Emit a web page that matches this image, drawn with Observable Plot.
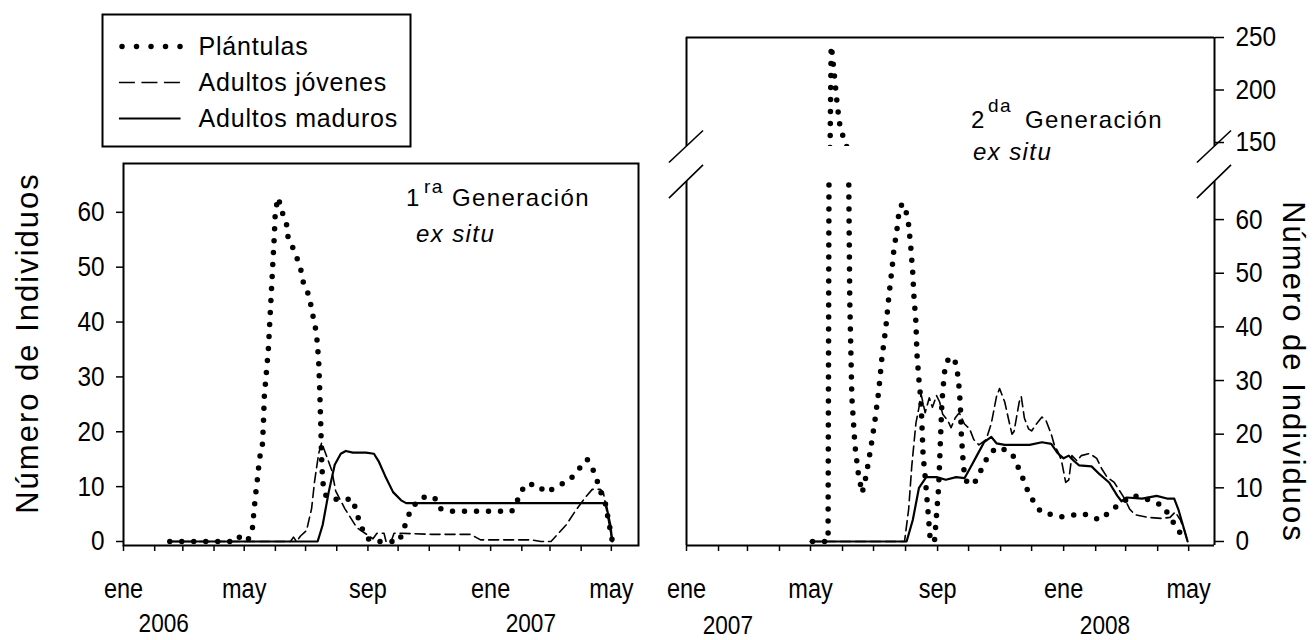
<!DOCTYPE html>
<html lang="es">
<head>
<meta charset="utf-8">
<title>Número de Individuos</title>
<script src="https://cdn.jsdelivr.net/npm/d3@7"></script>
<script src="https://cdn.jsdelivr.net/npm/@observablehq/plot@0.6"></script>
<style>
  html, body { margin: 0; padding: 0; background: #fff; }
  #chart { position: relative; width: 1314px; height: 640px; overflow: hidden; background: #fff; }
  #chart > svg { position: absolute; left: 0; top: 0; }
</style>
</head>
<body>
<div id="chart"></div>
<script>
// ---------- labels ----------
const monthLabels = ["ene","feb","mar","abr","may","jun","jul","ago","sep","oct","nov","dic"];
const labeledMonths = [0, 4, 8];
const yTicksLow = [0, 10, 20, 30, 40, 50, 60];
const yTicksHigh = [150, 200, 250];
const seriesNames = ["Plántulas", "Adultos jóvenes", "Adultos maduros"];
const axisTitle = "Número de Individuos";
const years1Dates = ["2006-02-10", "2007-02-10"];
const years1Text = ["2006", "2007"];
const years2Dates = ["2007-02-10", "2008-02-10"];
const years2Text = ["2007", "2008"];

// ---------- 1ra Generación ----------
const p1Dates = ["2006-02-16","2006-04-18","2006-04-24","2006-04-29","2006-05-04","2006-05-09","2006-05-12","2006-05-15","2006-05-16","2006-05-19","2006-05-20","2006-05-21","2006-05-23","2006-05-25","2006-05-27","2006-05-29","2006-05-31","2006-06-01","2006-06-04","2006-06-07","2006-06-12","2006-06-13","2006-06-18","2006-06-23","2006-06-27","2006-06-29","2006-07-05","2006-07-07","2006-07-10","2006-07-12","2006-07-14","2006-07-15","2006-07-16","2006-07-17","2006-07-18","2006-07-20","2006-07-22","2006-07-31","2006-08-10","2006-08-17","2006-08-21","2006-08-27","2006-09-01","2006-09-06","2006-10-02","2006-10-06","2006-10-14","2006-10-24","2006-11-03","2006-11-09","2006-11-12","2006-11-22","2006-12-12","2007-01-01","2007-01-22","2007-01-29","2007-02-04","2007-02-16","2007-02-25","2007-03-08","2007-03-21","2007-03-31","2007-04-07","2007-04-13","2007-04-17","2007-04-20","2007-04-25","2007-04-29","2007-05-02"];
const p1Values = [0,0,1,0.5,0,2,8,12.8,15,17.3,21,26.4,30.7,35,42,49,56,60.4,62.7,60.4,58,55.8,53.7,51.4,49.1,47,44.6,42.2,39.8,37.6,33,28,22,15,11,9,8,7.7,7.7,7.7,5,2,0.5,0,0,2,6,8,8.3,7.5,6,5.5,5.5,5.5,5.5,8,10.4,10.4,8.9,10,11.3,13.5,15,13,11,9.2,7,3,0];

const j1Dates = ["2006-02-16","2006-06-16","2006-06-19","2006-06-22","2006-06-26","2006-07-02","2006-07-07","2006-07-10","2006-07-14","2006-07-17","2006-07-22","2006-07-27","2006-07-31","2006-08-09","2006-08-21","2006-09-03","2006-09-06","2006-09-10","2006-09-17","2006-09-19","2006-09-24","2006-09-27","2006-10-04","2006-11-03","2006-12-12","2006-12-17","2006-12-22","2007-02-10","2007-02-20","2007-03-02","2007-03-07","2007-03-17","2007-03-26","2007-04-05","2007-04-12","2007-04-20","2007-04-23","2007-04-27","2007-05-02"];
const j1Values = [0,0,0.8,0,1,2,6,11,16,18,15.5,13,9.2,6,2.5,0.9,0.5,1.5,1.5,0,0,1.5,1.5,1.3,1.3,0.8,0.3,0.3,0,0,1,3,5.5,8,9.5,9.5,9,5,0];

const m1Dates = ["2006-02-16","2006-07-13","2006-07-18","2006-07-24","2006-07-30","2006-08-05","2006-08-10","2006-08-17","2006-08-30","2006-09-07","2006-09-12","2006-09-18","2006-09-26","2006-10-04","2006-10-09","2007-01-11","2007-04-23","2007-04-26","2007-04-30","2007-05-02"];
const m1Values = [0,0,3,9,14,16,16.5,16.2,16.2,16,14.5,12,9,7.5,7,7,7,6.5,3,0];

// ---------- 2da Generación ----------
const p2Dates = ["2007-05-03","2007-05-13","2007-05-18","2007-05-20","2007-05-21","2007-05-22","2007-05-24","2007-05-27","2007-05-30","2007-06-05","2007-06-07","2007-06-08","2007-06-10","2007-06-13","2007-06-16","2007-06-20","2007-06-24","2007-06-28","2007-07-02","2007-07-06","2007-07-09","2007-07-13","2007-07-16","2007-07-19","2007-07-21","2007-07-23","2007-07-26","2007-07-29","2007-08-01","2007-08-04","2007-08-06","2007-08-08","2007-08-09","2007-08-11","2007-08-12","2007-08-14","2007-08-16","2007-08-17","2007-08-18","2007-08-20","2007-08-23","2007-08-25","2007-08-29","2007-09-02","2007-09-04","2007-09-05","2007-09-06","2007-09-07","2007-09-08","2007-09-12","2007-09-18","2007-09-21","2007-09-23","2007-09-24","2007-09-26","2007-09-28","2007-10-02","2007-10-07","2007-10-15","2007-10-20","2007-10-28","2007-11-08","2007-11-13","2007-11-20","2007-11-29","2007-12-10","2007-12-30","2008-01-20","2008-02-05","2008-02-22","2008-03-08","2008-03-24","2008-04-06","2008-04-18","2008-04-27"];
const p2Values = [0,0,0,150,242,235,215,185,162,148,68,45,27,18,13,9,12.4,17,22,28,34,40,46,51,55,57,62,63,62,59,55,50,46,41,35,30,26,21,16,12,5,0,0,10,20,25,28,30,32,34.4,33.5,30.6,25.6,20,14,11.5,10.5,11,14,16,17.5,17,16,13,8.6,5.5,4.6,5.2,4,6.7,8.6,7.7,6.7,3,0.3];

const j2Dates = ["2007-05-01","2007-07-31","2007-08-04","2007-08-07","2007-08-11","2007-08-14","2007-08-16","2007-08-20","2007-08-24","2007-08-27","2007-08-31","2007-09-03","2007-09-06","2007-09-11","2007-09-14","2007-09-18","2007-09-22","2007-09-27","2007-10-02","2007-10-06","2007-10-11","2007-10-18","2007-10-23","2007-10-28","2007-10-31","2007-11-05","2007-11-09","2007-11-12","2007-11-14","2007-11-19","2007-11-21","2007-11-24","2007-11-28","2007-12-01","2007-12-06","2007-12-11","2007-12-15","2007-12-20","2007-12-23","2007-12-27","2007-12-30","2008-01-03","2008-01-06","2008-01-09","2008-01-14","2008-01-18","2008-01-26","2008-02-02","2008-02-07","2008-02-12","2008-02-19","2008-02-24","2008-02-29","2008-03-05","2008-03-10","2008-03-22","2008-04-05","2008-04-13","2008-04-18","2008-04-23","2008-04-27","2008-04-30"];
const j2Values = [0,0,6,14,22,25,27.5,24,26.8,25,27.2,26,23.7,22.5,21.2,23,24,21.9,21,19,18,19,22,27,28.5,26,22.5,20,20.5,26,27,23,21,20.6,22,23.2,22.5,20,18,16.5,15,11,11.5,16,15,16,16.4,15.5,13.5,12,11,9.5,8,6,5,4.5,4.3,4.5,5.5,4,2,0];

const m2Dates = ["2007-05-01","2007-08-02","2007-08-08","2007-08-14","2007-08-21","2007-08-31","2007-09-09","2007-09-19","2007-09-27","2007-10-02","2007-10-09","2007-10-16","2007-10-23","2007-10-28","2007-11-05","2007-11-29","2007-12-11","2007-12-20","2007-12-26","2008-01-01","2008-01-06","2008-01-11","2008-01-16","2008-01-28","2008-02-05","2008-02-14","2008-02-22","2008-02-26","2008-03-02","2008-03-17","2008-03-31","2008-04-10","2008-04-17","2008-04-21","2008-04-27","2008-04-30"];
const m2Values = [0,0,4,10,12,12,11.5,12,11.8,13.5,16,18.5,19.5,18.3,18,18,18.5,18.2,16.5,15.5,16,15,14.2,14,12.5,11,8.5,7.5,8.2,8,8.5,8,8,6,2,0];

// ---------- helpers ----------
const utc = s => new Date(s + "T00:00:00Z");
const toRows = (dates, values) => dates.map((d, i) => ({date: utc(d), value: values[i]}));
const P1 = toRows(p1Dates, p1Values), J1 = toRows(j1Dates, j1Values), M1 = toRows(m1Dates, m1Values);
const P2 = toRows(p2Dates, p2Values), J2 = toRows(j2Dates, j2Values), M2 = toRows(m2Dates, m2Values);
const Y1 = years1Dates.map((d, i) => ({date: utc(d), label: years1Text[i]}));
const Y2 = years2Dates.map((d, i) => ({date: utc(d), label: years2Text[i]}));

const W = 1314, H = 640;
const sans = "'Liberation Sans', Arial, Helvetica, sans-serif";
const baseStyle = `background: transparent; overflow: visible; font-family: ${sans}; color: #000;`;
const monthFmt = d => labeledMonths.includes(d.getUTCMonth()) ? monthLabels[d.getUTCMonth()] : "";

const x1Domain = [utc("2006-01-01"), utc("2007-05-28")];
const x2Domain = [utc("2007-01-01"), utc("2008-05-26")];
const ticks1 = d3.utcMonth.range(x1Domain[0], d3.utcDay.offset(x1Domain[1], 1));
const ticks2 = d3.utcMonth.range(x2Domain[0], d3.utcDay.offset(x2Domain[1], 1));

const dotted = {stroke: "#000", strokeWidth: 5.5, strokeDasharray: "0 12", strokeLinecap: "round", clip: true};
const dashed = {stroke: "#000", strokeWidth: 1.6, strokeDasharray: "10 5", clip: true};
const solid = {stroke: "#000", strokeWidth: 2.2, clip: true};
const seriesMarks = (P, J, M) => [
  Plot.line(J, {x: "date", y: "value", ...dashed}),
  Plot.line(M, {x: "date", y: "value", ...solid}),
  Plot.line(P, {x: "date", y: "value", ...dotted})
];
const xAxis = ticks => Plot.axisX({ticks, tickFormat: monthFmt, tickSize: 6, tickPadding: 27, fontSize: 27, strokeWidth: 1.5, label: null});

// ---------- left panel ----------
const y1Domain = [-0.73, 68.9];
const left = Plot.plot({
  width: W, height: H,
  marginLeft: 123, marginRight: W - 638, marginTop: 163, marginBottom: H - 545,
  style: baseStyle,
  x: {type: "utc", domain: x1Domain},
  y: {domain: y1Domain},
  marks: [
    Plot.frame({stroke: "#000", strokeWidth: 2}),
    Plot.axisY({ticks: yTicksLow, tickSize: 7, tickPadding: 12, fontSize: 28, strokeWidth: 1.5, label: null}),
    xAxis(ticks1),
    ...seriesMarks(P1, J1, M1),
    Plot.text(Y1, {x: "date", text: "label", frameAnchor: "bottom", lineAnchor: "bottom", dy: 86, fontSize: 26})
  ]
});

// ---------- right panel, upper part (broken axis) ----------
const y2High = [146.2, 250];
const y2Low = [-0.75, 67.1];
const breakDays = 16.5;
const breakLinks = (yEdge, dy) => [x2Domain[0], x2Domain[1]].map(d => ({
  xa: d3.utcDay.offset(d, -breakDays), ya: yEdge - dy,
  xb: d3.utcDay.offset(d, breakDays), yb: yEdge + dy
}));

const rightHigh = Plot.plot({
  width: W, height: H,
  marginLeft: 686, marginRight: W - 1214, marginTop: 37, marginBottom: H - 146,
  style: baseStyle,
  x: {type: "utc", domain: x2Domain, axis: null},
  y: {domain: y2High},
  marks: [
    Plot.ruleY([y2High[1]], {stroke: "#000", strokeWidth: 2}),
    Plot.ruleX(x2Domain, {stroke: "#000", strokeWidth: 2}),
    Plot.axisY({anchor: "right", ticks: yTicksHigh, tickSize: 9, tickPadding: 12, fontSize: 28, strokeWidth: 1.5, label: null}),
    Plot.line(P2, {x: "date", y: "value", ...dotted}),
    Plot.link(breakLinks(y2High[0], 15.2), {x1: "xa", y1: "ya", x2: "xb", y2: "yb", stroke: "#000", strokeWidth: 1.6})
  ]
});

// ---------- right panel, lower part ----------
const rightLow = Plot.plot({
  width: W, height: H,
  marginLeft: 686, marginRight: W - 1214, marginTop: 181, marginBottom: H - 545,
  style: baseStyle,
  x: {type: "utc", domain: x2Domain},
  y: {domain: y2Low},
  marks: [
    Plot.ruleX(x2Domain, {stroke: "#000", strokeWidth: 2}),
    Plot.ruleY([y2Low[0]], {stroke: "#000", strokeWidth: 2}),
    Plot.axisY({anchor: "right", ticks: yTicksLow, tickSize: 9, tickPadding: 12, fontSize: 28, strokeWidth: 1.5, label: null}),
    xAxis(ticks2),
    ...seriesMarks(P2, J2, M2),
    Plot.link(breakLinks(y2Low[1], 3.1), {x1: "xa", y1: "ya", x2: "xb", y2: "yb", stroke: "#000", strokeWidth: 1.6}),
    Plot.text(Y2, {x: "date", text: "label", frameAnchor: "bottom", lineAnchor: "bottom", dy: 88, fontSize: 26})
  ]
});

// ---------- legend ----------
const legend = Plot.plot({
  width: W, height: H,
  marginLeft: 102, marginRight: W - 410, marginTop: 14, marginBottom: H - 146,
  style: baseStyle + " letter-spacing: 0.8px;",
  x: {domain: [0, 1], axis: null},
  y: {type: "point", domain: seriesNames, range: [45, 118], padding: 0, axis: null},
  marks: [
    Plot.frame({stroke: "#000", strokeWidth: 2}),
    Plot.ruleY([seriesNames[0]], {x1: 0.065, x2: 0.255, stroke: "#000", strokeWidth: 5.5, strokeDasharray: "0 14.5", strokeLinecap: "round"}),
    Plot.ruleY([seriesNames[1]], {x1: 0.055, x2: 0.255, stroke: "#000", strokeWidth: 1.6, strokeDasharray: "16 6.5"}),
    Plot.ruleY([seriesNames[2]], {x1: 0.055, x2: 0.255, stroke: "#000", strokeWidth: 2.2}),
    Plot.text(seriesNames, {y: d => d, text: d => d, frameAnchor: "left", dx: 96, textAnchor: "start", lineAnchor: "middle", fontSize: 25})
  ]
});

// condensed look of the tick and year labels (as in the original figure)
[left, rightHigh, rightLow].forEach(svg => {
  svg.querySelectorAll("g[aria-label$='tick label'] text, g[aria-label='text'] text").forEach(t => {
    const tr = t.getAttribute("transform") || "";
    t.setAttribute("transform", tr + " scale(0.87,1)");
  });
});

// ---------- annotations & axis titles ----------
const ov = d3.create("svg").attr("width", W).attr("height", H).attr("viewBox", `0 0 ${W} ${H}`)
  .style("overflow", "visible").style("font-family", sans).attr("fill", "#000");

function generation(x, y, num, sup, supDx, supDy, genX) {
  const t = ov.append("text").attr("font-size", 24).attr("letter-spacing", 1.4);
  t.append("tspan").attr("x", x).attr("y", y).text(num);
  t.append("tspan").attr("x", x + supDx).attr("y", y - supDy).attr("font-size", 19).text(sup);
  t.append("tspan").attr("x", genX).attr("y", y).text("Generación");
}
generation(406, 206, "1", "ra", 18, 13, 452);
ov.append("text").attr("x", 416).attr("y", 242).attr("font-size", 24).attr("font-style", "italic").attr("letter-spacing", 1.4).text("ex situ");
generation(971, 128, "2", "da", 17, 16, 1025);
ov.append("text").attr("x", 973).attr("y", 160).attr("font-size", 24).attr("font-style", "italic").attr("letter-spacing", 1.4).text("ex situ");

ov.append("text").attr("transform", "translate(38,343) rotate(-90)").attr("text-anchor", "middle")
  .attr("font-size", 31).attr("letter-spacing", 2).text(axisTitle);
ov.append("text").attr("transform", "translate(1283,372) rotate(90)").attr("text-anchor", "middle")
  .attr("font-size", 31).attr("letter-spacing", 2).text(axisTitle);

const chart = document.getElementById("chart");
[left, rightHigh, rightLow, legend, ov.node()].forEach(n => chart.appendChild(n));
</script>
</body>
</html>
